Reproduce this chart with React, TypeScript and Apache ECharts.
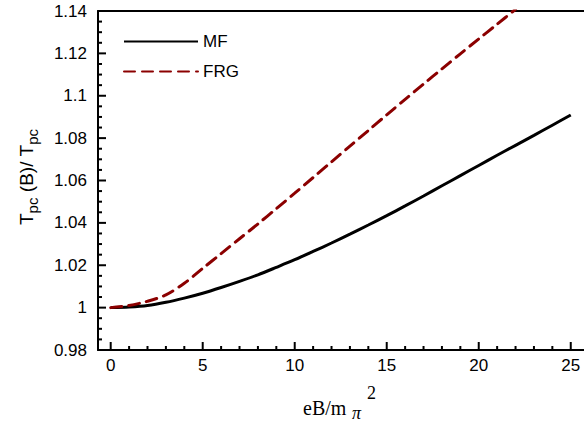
import React, { useEffect, useRef } from "react";
import * as echarts from "echarts";

const xValues = [0, 1, 2, 3, 4, 5, 6, 7, 8, 9, 10, 11, 12, 13, 14, 15, 16, 17, 18, 19, 20, 21, 22, 23, 24, 25];
const mfValues = [1.0, 1.0003, 1.001, 1.0025, 1.0045, 1.0068, 1.0095, 1.0124, 1.0155, 1.019, 1.0226, 1.0265, 1.0305, 1.0347, 1.039, 1.0434, 1.048, 1.0527, 1.0575, 1.0623, 1.0671, 1.0719, 1.0766, 1.0813, 1.0861, 1.0909];
const frgX = [0, 1, 2, 3, 4, 5, 6, 7, 8, 9, 10, 11, 12, 13, 14, 15, 16, 17, 18, 19, 20, 21, 22];
const frgValues = [1.0, 1.001, 1.003, 1.006, 1.0115, 1.0185, 1.0255, 1.0325, 1.0395, 1.0467, 1.054, 1.0614, 1.0688, 1.0762, 1.0836, 1.091, 1.0983, 1.1055, 1.1127, 1.1198, 1.1268, 1.1338, 1.1408];
const xMajorTicks = [0, 5, 10, 15, 20, 25];
const xMinorTicks = [1, 2, 3, 4, 6, 7, 8, 9, 11, 12, 13, 14, 16, 17, 18, 19, 21, 22, 23, 24];
const yMajorTicks = [0.98, 1.0, 1.02, 1.04, 1.06, 1.08, 1.1, 1.12, 1.14];
const yMinorTicks = [
  0.985, 0.99, 0.995, 1.005, 1.01, 1.015, 1.025, 1.03, 1.035, 1.045, 1.05, 1.055,
  1.065, 1.07, 1.075, 1.085, 1.09, 1.095, 1.105, 1.11, 1.115, 1.125, 1.13, 1.135,
];
const seriesNames = ["MF", "FRG"];

const FONT = "Liberation Sans";
const SERIF = "Liberation Serif";

export default function App() {
  const ref = useRef<HTMLDivElement>(null);
  useEffect(() => {
    if (!ref.current) return;
    const chart = echarts.init(ref.current, null, { renderer: "svg" });
    const xMin = -0.69;
    const xMax = 25.72;
    const yMin = 0.98;
    const yMax = 1.14;
    const axisStyle = { color: "#000", width: 2 };

    const xTickSeries = (vals: number[], len: number) => ({
      type: "custom",
      silent: true,
      clip: false,
      z: 5,
      data: vals.map((v) => [v, yMin]),
      encode: { x: 0, y: 1 },
      renderItem: (params: any, api: any) => {
        const p = api.coord([api.value(0), api.value(1)]);
        return {
          type: "rect",
          shape: { x: p[0] - 1, y: p[1] - len, width: 2, height: len },
          style: { fill: "#000" },
        };
      },
    });
    const yTickSeries = (vals: number[], len: number) => ({
      type: "custom",
      silent: true,
      clip: false,
      z: 5,
      data: vals.map((v) => [xMin, v]),
      encode: { x: 0, y: 1 },
      renderItem: (params: any, api: any) => {
        const p = api.coord([api.value(0), api.value(1)]);
        return {
          type: "rect",
          shape: { x: p[0], y: p[1] - 1, width: len, height: 2 },
          style: { fill: "#000" },
        };
      },
    });

    chart.setOption({
      animation: false,
      backgroundColor: "#ffffff",
      grid: { left: 98, top: 11, right: 0, bottom: 72, containLabel: false },
      legend: {
        data: seriesNames,
        orient: "vertical",
        left: 118,
        top: 28,
        itemWidth: 74,
        itemHeight: 14,
        itemGap: 13,
        itemStyle: { opacity: 0 },
        textStyle: { fontSize: 17, color: "#000", fontFamily: FONT },
      },
      xAxis: [
        {
          type: "value",
          min: xMin,
          max: xMax,
          position: "bottom",
          splitLine: { show: false },
          axisLine: { show: true, onZero: false, lineStyle: axisStyle },
          axisTick: { show: false },
          axisLabel: { show: true, customValues: xMajorTicks, fontSize: 17, color: "#000", fontFamily: FONT, margin: 7 },
        },
        {
          type: "value",
          min: xMin,
          max: xMax,
          position: "top",
          splitLine: { show: false },
          axisLine: { show: true, onZero: false, lineStyle: axisStyle },
          axisTick: { show: false },
          axisLabel: { show: false },
        },
      ],
      yAxis: {
        type: "value",
        min: yMin,
        max: yMax,
        interval: 0.02,
        position: "left",
        splitLine: { show: false },
        axisLine: { show: true, onZero: false, lineStyle: axisStyle },
        axisTick: { show: false },
        axisLabel: {
          fontSize: 17,
          color: "#000",
          fontFamily: FONT,
          margin: 11,
          formatter: (v: number) => String(parseFloat(v.toFixed(2))),
        },
      },
      series: [
        {
          name: seriesNames[0],
          type: "line",
          symbol: "none",
          smooth: 0.3,
          data: xValues.map((x, i) => [x, mfValues[i]]),
          lineStyle: { color: "#000", width: 3 },
          itemStyle: { color: "#000" },
        },
        {
          name: seriesNames[1],
          type: "line",
          symbol: "none",
          smooth: 0.3,
          data: frgX.map((x, i) => [x, frgValues[i]]),
          lineStyle: { color: "#8B0000", width: 3, type: [11, 7], cap: "round" },
          itemStyle: { color: "#8B0000" },
        },
        xTickSeries(xMajorTicks, 8),
        xTickSeries(xMinorTicks, 4),
        yTickSeries(yMajorTicks, 8),
        yTickSeries(yMinorTicks, 4),
      ],
      graphic: [
        {
          type: "text",
          x: 26,
          y: 177,
          rotation: Math.PI / 2,
          style: {
            text: "{a|T}{b|pc}{a| (B)/ T}{b|pc}",
            align: "center",
            verticalAlign: "middle",
            rich: {
              a: { fontSize: 19, fontFamily: FONT, fill: "#000", verticalAlign: "middle" },
              b: { fontSize: 15, fontFamily: FONT, fill: "#000", verticalAlign: "middle", padding: [12, 0, 0, 0] },
            },
          },
        },
        {
          type: "text",
          x: 303,
          y: 408,
          style: { text: "eB/m", fontSize: 20, fontFamily: SERIF, fill: "#000", verticalAlign: "middle" },
        },
        {
          type: "text",
          x: 352,
          y: 413,
          style: { text: "π", fontSize: 18, fontStyle: "italic", fontFamily: SERIF, fill: "#000", verticalAlign: "middle" },
        },
        {
          type: "text",
          x: 367,
          y: 393,
          style: { text: "2", fontSize: 18, fontFamily: SERIF, fill: "#000", verticalAlign: "middle" },
        },
      ],
    });
    return () => chart.dispose();
  }, []);
  return (
    <div
      ref={ref}
      style={{ position: "absolute", left: 0, top: 0, width: 584, height: 422 }}
    />
  );
}
